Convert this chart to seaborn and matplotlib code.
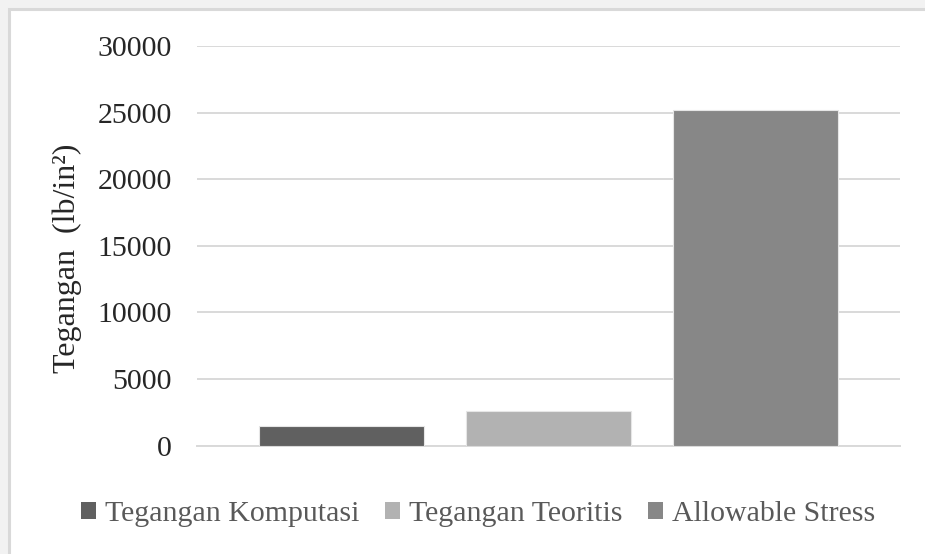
import matplotlib
matplotlib.use("Agg")
import matplotlib.pyplot as plt
from matplotlib.patches import Rectangle
import seaborn as sns
import pandas as pd

# Stress values (lb/in^2)
series = ["Tegangan Komputasi", "Tegangan Teoritis", "Allowable Stress"]
values = [1500, 2600, 25200]
colors = ["#606060", "#b2b2b2", "#878787"]
yticks = [0, 5000, 10000, 15000, 20000, 25000, 30000]

df = pd.DataFrame({"series": series, "value": values})

sns.set_theme(style="white")
plt.rcParams["font.family"] = ["Liberation Serif", "DejaVu Serif"]

W, H = 925, 554
fig = plt.figure(figsize=(W / 100, H / 100), dpi=100, facecolor="#f2f2f2")

# white chart area with thin grey frame
fig.patches.append(Rectangle((8.5 / W, -0.1), 1.2, 1 - 9.5 / H + 0.1,
                             transform=fig.transFigure, facecolor="white",
                             edgecolor="#d9d9d9", linewidth=2.2, zorder=-5))

ax = fig.add_axes([197 / W, 1 - 445.5 / H, (900 - 197) / W, (445.5 - 46) / H])
ax.set_facecolor("none")
ax.set_zorder(2)

sns.barplot(data=df, x="series", y="value", hue="series", palette=colors,
            width=0.8, saturation=1, legend=False, ax=ax, zorder=3,
            edgecolor="#e6e6e6", linewidth=0.8)

ax.set_xlim(-0.7, 2.7)
ax.set_ylim(0, 30000)
ax.set_yticks(yticks)
ax.set_yticklabels([str(t) for t in yticks])
ax.tick_params(axis="y", length=0, pad=18, labelsize=21.5, labelcolor="#262626")
ax.set_xticks([])
ax.set_xlabel("")
ax.set_ylabel("Tegangan  (lb/in²)", fontsize=23, color="#262626")
ax.yaxis.set_label_coords((82 - 197) / 703, (445.5 - 258) / 399.5)
ax.yaxis.grid(True, color="#d9d9d9", linewidth=1.4, zorder=0)
ax.set_axisbelow(True)
for side in ["top", "right", "left"]:
    ax.spines[side].set_visible(False)
ax.spines["bottom"].set_color("#d9d9d9")
ax.spines["bottom"].set_linewidth(1.4)

# legend along the bottom
handles = [Rectangle((0, 0), 1, 1, facecolor=c, edgecolor="none") for c in colors]
leg = fig.legend(handles, series, loc="center", bbox_to_anchor=(478 / W, 1 - 514 / H),
                 ncol=3, frameon=False, fontsize=21.5, handlelength=0.5, handleheight=0.5,
                 handletextpad=0.3, columnspacing=0.85, labelcolor="#595959")
leg.set_zorder(3)

fig.savefig("out.png", dpi=100, facecolor=fig.get_facecolor())
